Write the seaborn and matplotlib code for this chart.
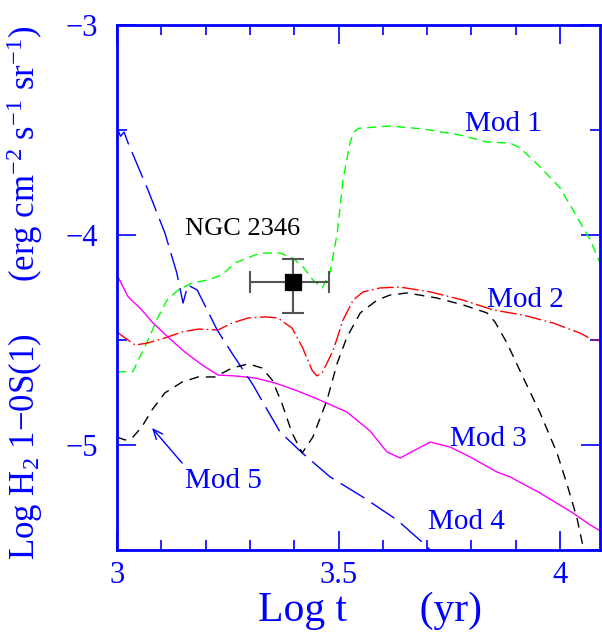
import matplotlib
matplotlib.use("Agg")
import matplotlib.pyplot as plt
import seaborn as sns
import pandas as pd
from matplotlib.ticker import MultipleLocator, FixedLocator, FixedFormatter

# ---------------- data ----------------
mod1_x = [3.000, 3.036, 3.070, 3.093, 3.113, 3.138, 3.169, 3.205, 3.237, 3.266, 3.323, 3.368,
          3.397, 3.420, 3.442, 3.463, 3.481, 3.497, 3.510, 3.526, 3.534, 3.545, 3.616, 3.691, 3.774,
          3.835, 3.887, 3.910, 3.955, 4.000, 4.038, 4.068, 4.090]
mod1_y = [-4.652, -4.650, -4.500, -4.390, -4.310, -4.262, -4.229, -4.214, -4.190, -4.133, -4.086, -4.086,
          -4.110, -4.152, -4.214, -4.252, -4.176, -3.990, -3.738, -3.560, -3.510, -3.492, -3.481, -3.495, -3.524,
          -3.557, -3.562, -3.586, -3.676, -3.776, -3.914, -4.024, -4.133]

mod2_x = [3.000, 3.018, 3.041, 3.070, 3.108, 3.147, 3.183, 3.228, 3.260, 3.296, 3.334, 3.363,
          3.395, 3.418, 3.440, 3.451, 3.463, 3.488, 3.510, 3.533, 3.555, 3.594, 3.639, 3.707,
          3.781, 3.849, 3.916, 3.984, 4.045, 4.074, 4.095]
mod2_y = [-4.462, -4.490, -4.524, -4.514, -4.490, -4.462, -4.448, -4.452, -4.419, -4.395, -4.390, -4.395,
          -4.443, -4.533, -4.643, -4.671, -4.657, -4.548, -4.405, -4.310, -4.271, -4.252, -4.248, -4.271,
          -4.310, -4.357, -4.381, -4.419, -4.467, -4.500, -4.505]

mod3_x = [3.000, 3.025, 3.056, 3.079, 3.115, 3.153, 3.192, 3.228, 3.266, 3.312, 3.357, 3.402,
          3.447, 3.519, 3.571, 3.609, 3.639, 3.668, 3.707, 3.752, 3.797, 3.858, 3.887, 3.955,
          4.029, 4.068, 4.095]
mod3_y = [-4.190, -4.294, -4.357, -4.414, -4.486, -4.557, -4.619, -4.667, -4.671, -4.681, -4.705, -4.738,
          -4.776, -4.843, -4.933, -5.033, -5.062, -5.029, -4.986, -5.010, -5.057, -5.129, -5.152, -5.229,
          -5.324, -5.381, -5.414]

mod4_x = [3.000, 3.008, 3.016, 3.025, 3.070, 3.108, 3.135, 3.149, 3.160, 3.181, 3.226, 3.262,
          3.307, 3.341, 3.368, 3.418, 3.481, 3.555, 3.632, 3.691, 3.707]
mod4_y = [-3.490, -3.530, -3.510, -3.562, -3.786, -3.990, -4.181, -4.324, -4.238, -4.262, -4.452, -4.571,
          -4.714, -4.840, -4.938, -5.038, -5.152, -5.248, -5.357, -5.467, -5.500]

mod5_x = [3.000, 3.018, 3.034, 3.056, 3.079, 3.108, 3.147, 3.183, 3.221, 3.260, 3.296, 3.327,
          3.350, 3.372, 3.395, 3.418, 3.442, 3.474, 3.497, 3.519, 3.549, 3.587, 3.616, 3.655,
          3.722, 3.781, 3.835, 3.853, 3.880, 3.916, 3.955, 3.993, 4.016, 4.038, 4.052]
mod5_y = [-4.962, -4.976, -4.967, -4.914, -4.833, -4.752, -4.700, -4.676, -4.676, -4.633, -4.614, -4.633,
          -4.690, -4.800, -4.943, -5.038, -4.962, -4.786, -4.610, -4.486, -4.371, -4.310, -4.286, -4.276,
          -4.300, -4.333, -4.371, -4.414, -4.514, -4.676, -4.848, -5.038, -5.190, -5.348, -5.486]

obs_x = [3.397]
obs_y = [-4.224]
obs_xerr_lo = [0.097]
obs_xerr_hi = [0.082]
obs_yerr_lo = [0.147]
obs_yerr_hi = [0.110]

x_ticks = [3.0, 3.5, 4.0]
x_tick_labels = ["3", "3.5", "4"]
y_ticks = [-5, -4, -3]
y_tick_labels = ["\u22125", "\u22124", "\u22123"]

model_labels = ["Mod 1", "Mod 2", "Mod 3", "Mod 4", "Mod 5"]
label_x = [3.786, 3.835, 3.752, 3.702, 3.153]
label_y = [-3.505, -4.343, -5.005, -5.400, -5.205]

# ---------------- style ----------------
sns.set_style("ticks")
plt.rcParams["font.family"] = ["Liberation Serif", "DejaVu Serif"]
plt.rcParams["mathtext.fontset"] = "custom"
plt.rcParams["mathtext.rm"] = "Liberation Serif"
plt.rcParams["mathtext.it"] = "Liberation Serif:italic"
plt.rcParams["axes.unicode_minus"] = True

BLUE = "#0000ff"

fig = plt.figure(figsize=(6.02, 6.33), dpi=100)
ax = fig.add_axes([117 / 602, 1 - 550 / 633, 483 / 602, 525 / 633])

series = [
    (mod1_x, mod1_y, "#00ff00", (0, (6.5, 4.0))),
    (mod2_x, mod2_y, "#ff0000", (0, (12, 2.5, 1.2, 2.5))),
    (mod3_x, mod3_y, "#ff00ff", "-"),
    (mod4_x, mod4_y, BLUE, (0, (20, 6))),
    (mod5_x, mod5_y, "#000000", (0, (7, 5))),
]
for xs, ys, col, ls in series:
    df = pd.DataFrame({"x": xs, "y": ys})
    sns.lineplot(data=df, x="x", y="y", ax=ax, color=col, linewidth=1.0,
                 sort=False, estimator=None)
    line = ax.lines[-1]
    line.set_linestyle(ls)

# observed point
ax.errorbar(obs_x, obs_y, xerr=[obs_xerr_lo, obs_xerr_hi], yerr=[obs_yerr_lo, obs_yerr_hi],
            fmt="none", ecolor="#555555", elinewidth=1.5, capsize=8, capthick=1.5, zorder=4)
sns.scatterplot(x=obs_x, y=obs_y, ax=ax, marker="s", s=130, color="black",
                edgecolor="black", zorder=5)

# labels
for lab, lx, ly in zip(model_labels, label_x, label_y):
    ax.text(lx, ly, lab, color=BLUE, fontsize=21, ha="left", va="baseline")
ax.text(3.153, -4.0, "NGC 2346", color="black", fontsize=19, ha="left", va="baseline")
ax.annotate("", xy=(3.079, -4.919), xytext=(3.147, -5.086),
            arrowprops=dict(arrowstyle="->,head_length=0.7,head_width=0.3", color=BLUE,
                            lw=1.0, shrinkA=0, shrinkB=0))

# axes
ax.set_xlim(3.0, 4.09)
ax.set_ylim(-5.5, -3.0)
ax.xaxis.set_major_locator(FixedLocator(x_ticks))
ax.xaxis.set_major_formatter(FixedFormatter(x_tick_labels))
ax.xaxis.set_minor_locator(MultipleLocator(0.1))
ax.yaxis.set_major_locator(FixedLocator(y_ticks))
ax.yaxis.set_major_formatter(FixedFormatter(y_tick_labels))
ax.yaxis.set_minor_locator(MultipleLocator(0.5))
ax.tick_params(which="both", direction="in", top=True, right=True, colors=BLUE,
               labelcolor=BLUE)
ax.tick_params(which="major", length=14, width=1.2, labelsize=22)
ax.tick_params(which="minor", length=7, width=1.2)
ax.tick_params(axis="y", which="major", pad=14)
ax.tick_params(axis="x", which="major", pad=8)
for lbl in ax.get_xticklabels() + ax.get_yticklabels():
    lbl.set_fontsize(22)
for sp in ax.spines.values():
    sp.set_color(BLUE)
    sp.set_linewidth(2)

ax.set_xlabel("Log t       (yr)", fontsize=30, color=BLUE)
ax.xaxis.set_label_coords(0.524, -0.079)
ax.set_ylabel("Log H$_2$ 1\u22120S(1)      (erg cm$^{-2}$ s$^{-1}$ sr$^{-1}$)",
              fontsize=25, color=BLUE)
ax.yaxis.set_label_coords(-0.15, 0.49)

fig.savefig("out.png", dpi=100)
